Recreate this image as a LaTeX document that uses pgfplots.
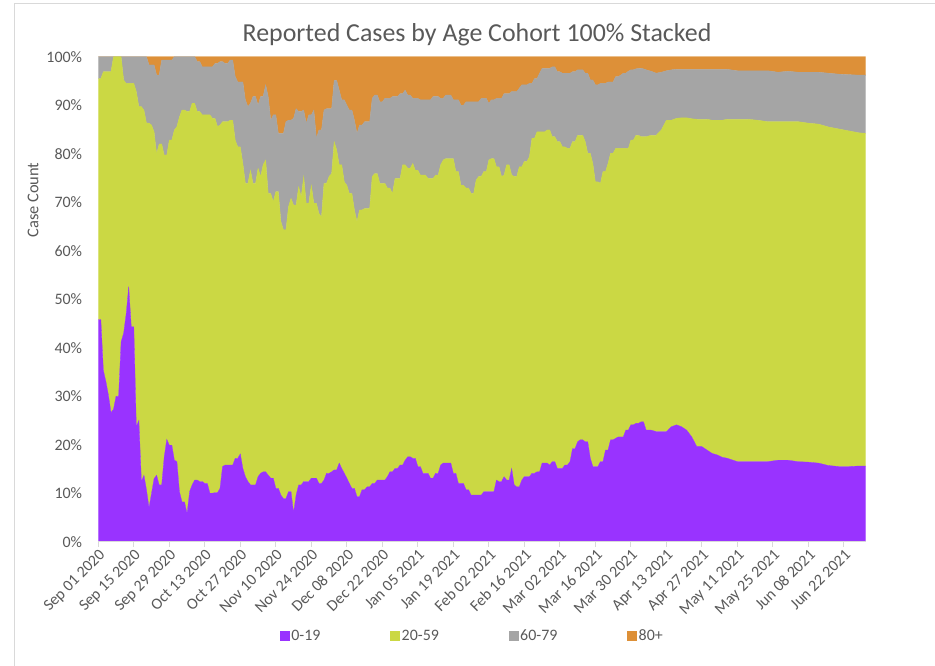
\documentclass[border=0pt]{standalone}
\usepackage{fontspec}
\setmainfont{Carlito}
\usepackage{pgfplots}
\usepackage{pgfplotstable}
\pgfplotsset{compat=1.18}
\definecolor{ageA}{HTML}{9933FF}
\definecolor{ageB}{HTML}{CBD844}
\definecolor{ageC}{HTML}{A5A5A5}
\definecolor{ageD}{HTML}{DD9038}
\definecolor{txtgray}{HTML}{595959}
\definecolor{linegray}{HTML}{D9D9D9}

% cumulative tops (%): p = 0-19, g = up to 20-59, s = up to 60-79; 80+ fills to 100
\pgfplotstableread{
day p g s
0 45.8 95.5 100
1 45.8 95.5 100
2 35.3 96.9 100
3 33 96.9 100
4 30.2 96.9 100
5 26.6 96.9 100
6 27.3 100 100
7 30 100 100
8 29.9 100 100
9 41.2 100 100
10 43 95.2 100
11 47 94.5 100
12 52.6 94.5 100
13 44.3 94.5 100
14 44.3 94.5 100
15 23.7 92.8 100
16 25 89.7 100
17 12.4 89.7 100
18 13.7 89 100
19 10.7 86.3 100
20 7 86.3 98.3
21 10 85.9 98.3
22 13 84.5 98.3
23 13.7 80 96.2
24 11.7 82 96.2
25 11.7 82 99.3
26 17.5 79.7 99.3
27 21.1 79.7 99.3
28 19.9 82.8 99.3
29 19.9 82.8 99.3
30 16.8 84.9 100
31 16.5 85.6 100
32 10.3 87.6 100
33 8.2 89 100
34 8.2 89 100
35 5.8 88.7 100
36 10.3 88.7 100
37 11.7 90.4 100
38 12.7 90.4 100
39 12.7 88.7 99
40 12.4 88.7 99
41 12.4 88 97.9
42 12 88 97.9
43 12 88 97.9
44 10 88 97.9
45 10 87.3 97.9
46 10.1 87.3 98.6
47 10.1 85.6 98.6
48 11 85.9 99
49 15.5 86.6 99
50 15.8 86.6 98.6
51 15.8 86.6 98.6
52 15.8 86.9 99.3
53 15.8 86.9 99.3
54 17.2 82.8 95.9
55 17.2 81.4 94.8
56 18.1 81.4 94.8
57 15.1 78 94.8
58 13.4 73.9 91.1
59 12.4 73.9 89.7
60 11.7 76.6 90.4
61 11.7 73.9 91.8
62 11.7 73.9 91.8
63 13.4 77 90
64 14.1 75.3 91.8
65 14.4 77.7 91.8
66 14.4 78.7 94.2
67 13.7 71.8 91.8
68 13.1 71.8 86.9
69 13.1 70.1 88
70 11 72.2 88
71 11 72.2 84.2
72 9.6 66 84.2
73 8.9 64.3 84.2
74 8.9 64.3 86.6
75 10.3 69.1 86.9
76 10.3 70.8 86.9
77 6 69.4 87.3
78 9.6 69.4 89.3
79 11.7 73.2 88.7
80 11.7 71.1 88.7
81 12.4 75.3 89
82 12.4 69.8 86.3
83 12.4 69.8 88
84 13.1 73.5 88
85 13.1 69.8 89
86 13.1 69.8 83.2
87 12 67.7 84.9
88 12 67 84.9
89 12.7 73.9 89
90 14.1 73.9 89.3
91 14.1 75.3 89.3
92 14.4 75.9 89.3
93 14.8 82.5 95.1
94 14.8 80.8 95.1
95 16.2 77.7 93.1
96 15.1 77.7 91.1
97 14.1 74.2 91.1
98 13.1 73.5 90
99 12 71.8 89
100 11 71.8 89
101 11 68.4 86.9
102 9.3 66 84.2
103 9.3 68.4 85.9
104 10.7 68.4 85.9
105 10.7 68.7 86.6
106 11.3 68.7 86.6
107 11.3 68.7 86.6
108 12 75.3 91.4
109 12 75.9 92.1
110 12.7 75.9 92.1
111 12.7 73.9 90.7
112 12.7 73.9 90.7
113 12.7 73.9 91.4
114 13.4 72.9 91.4
115 14.4 72.9 91.4
116 14.4 71.8 91.8
117 15.1 74.9 91.8
118 15.1 74.9 91.8
119 15.8 74.9 92.4
120 15.8 77.7 92.4
121 16.8 77.7 93.1
122 17.5 77 92.1
123 17.5 77 92.1
124 17.2 78 91.4
125 17.2 76.6 91.4
126 15.5 76.6 91.4
127 15.5 75.6 91.1
128 14.1 75.6 91.1
129 14.1 75.6 91.1
130 14.1 74.9 91.1
131 13.1 74.9 91.1
132 13.1 74.9 91.8
133 14.1 75.6 91.8
134 14.1 75.6 91.8
135 15.8 77.7 91.4
136 16.2 78.7 91.4
137 16.2 79 92.1
138 16.2 79 92.1
139 16.2 79 92.1
140 14.1 79 91.1
141 14.1 76.3 91.1
142 12 76.3 91.1
143 12 73.5 90
144 12 73.5 90
145 10.7 72.9 90.7
146 10.7 72.9 90.7
147 9.6 71.8 90.7
148 9.6 71.8 90.7
149 9.6 74.6 90.7
150 9.6 75.3 90.7
151 9.6 75.3 91.4
152 10.3 76.3 91.4
153 10.3 76.3 91.4
154 10.3 78.7 90.4
155 10.3 79 91.1
156 10.3 79 91.1
157 12.7 77.3 91.4
158 12.4 77.3 91.4
159 12.4 75.3 91.4
160 13.4 75.6 92.4
161 12.7 77.7 92.4
162 12.7 77.7 92.4
163 15.1 75.6 92.8
164 11.7 75.3 92.8
165 11.3 75.3 92.8
166 11.3 77.3 93.5
167 12.7 77.3 94.2
168 13.4 78.4 94.2
169 13.4 78.4 94.2
170 13.4 79.4 94.5
171 14.1 83.2 94.5
172 14.1 83.2 95.5
173 14.4 84.5 95.5
174 14.4 84.5 96.6
175 16.2 84.5 97.6
176 16.2 84.5 97.6
177 16.2 84.9 97.6
178 15.8 84.9 97.6
179 16.5 83.5 97.9
180 16.5 83.5 97.9
181 15.1 82.5 96.9
182 15.1 82.5 96.9
183 15.1 81.4 96.6
184 15.8 81.4 96.6
185 15.8 81.1 96.6
186 16.5 81.1 96.6
187 19.2 82.5 96.9
188 19.2 82.5 96.9
189 20.6 83.8 97.3
190 21 83.8 97.3
191 21 83.8 97.3
192 20.6 82.5 96.6
193 20.6 80.1 96.6
194 17.2 80.1 95.2
195 15.5 78 95.2
196 15.5 74.2 94.2
197 15.5 74.2 94.2
198 16.5 73.9 94.5
199 16.5 76.3 94.5
200 18.9 76.3 94.5
201 18.9 78 94.8
202 21 80.1 94.8
203 21 80.1 94.8
204 21.3 81.1 95.9
205 21.6 81.1 95.9
206 21.6 81.1 96.2
207 21.6 81.1 96.6
208 23 81.1 96.6
209 23 81.1 97
210 24.1 82.8 97.3
211 24.1 82.8 97.3
212 24.4 83.8 97.5
213 24.4 83.8 97.6
214 24.7 83.5 97.6
215 24.7 83.5 97.5
216 23 83.5 97.3
218 23 83.8 97
220 22.7 83.8 96.6
222 22.7 84.9 96.8
224 22.7 86.9 97.1
226 23.7 86.9 97.3
228 24.1 87.3 97.4
230 23.7 87.4 97.4
232 23 87.4 97.4
234 21.6 87.2 97.4
236 19.6 87.1 97.4
238 19.6 87.1 97.4
240 18.9 87.1 97.4
242 18.2 86.9 97.4
244 17.9 86.9 97.4
246 17.4 86.9 97.4
248 17.2 87.1 97.4
252 16.5 87.1 97.1
256 16.5 87.1 97.1
260 16.5 86.9 97.1
264 16.5 86.6 97.1
268 16.8 86.6 96.8
272 16.8 86.6 97
276 16.5 86.6 96.8
280 16.4 86.3 96.8
284 16.2 86.1 96.8
288 15.7 85.5 96.6
292 15.5 85.1 96.4
296 15.5 84.7 96.3
300 15.6 84.3 96.2
302.6 15.6 84.2 96.2
}\cohorts

\begin{document}
\begin{tikzpicture}[x=1bp,y=1bp]
\useasboundingbox (0,0) rectangle (935,666);
\draw[linegray, line width=1bp] (14,0) -- (14,662) -- (935,662);
\node[font=\fontsize{26}{30}\selectfont, text=txtgray] at (477,631)
  {Reported Cases by Age Cohort 100\% Stacked};
\node[rotate=90, font=\fontsize{16.5}{19}\selectfont, text=txtgray] at (33,466) {Case Count};
\begin{axis}[
  at={(98.3bp,124.3bp)}, anchor=south west,
  width=767.4bp, height=485bp, scale only axis,
  xmin=0, xmax=302.6, ymin=0, ymax=100,
  stack plots=y, area style,
  axis x line*=bottom, axis y line*=left,
  y axis line style={draw=none},
  x axis line style={draw=linegray, line width=1.3bp, -},
  tick align=outside, major tick length=5bp,
  xtick style={draw=linegray, line width=1bp},
  ytick style={draw=none},
  ytick={0,10,...,100},
  yticklabels={0\%,10\%,20\%,30\%,40\%,50\%,60\%,70\%,80\%,90\%,100\%},
  xtick={0,14,...,294},
  xticklabels={Sep 01 2020,Sep 15 2020,Sep 29 2020,Oct 13 2020,Oct 27 2020,
    Nov 10 2020,Nov 24 2020,Dec 08 2020,Dec 22 2020,Jan 05 2021,Jan 19 2021,
    Feb 02 2021,Feb 16 2021,Mar 02 2021,Mar 16 2021,Mar 30 2021,Apr 13 2021,
    Apr 27 2021,May 11 2021,May 25 2021,Jun 08 2021,Jun 22 2021},
  tick label style={font=\fontsize{16}{19}\selectfont, text=txtgray},
  x tick label style={rotate=45, anchor=north east, inner sep=1bp},
  y tick label style={inner sep=0pt, xshift=-11bp},
  legend columns=4,
  legend style={at={(0.4875,-0.1944)}, anchor=center, draw=none, fill=none,
    font=\fontsize{16}{19}\selectfont, text=txtgray,
    nodes={inner sep=2bp},
    /tikz/every even column/.append style={column sep=68bp}},
  legend image code/.code={\draw[#1] (0bp,-4.5bp) rectangle (9bp,4.5bp);},
]
\addplot[fill=ageA, draw=ageA, line width=0.3bp] table[x=day, y=p] {\cohorts} \closedcycle;
\addplot[fill=ageB, draw=ageB, line width=0.3bp] table[x=day, y expr=\thisrow{g}-\thisrow{p}] {\cohorts} \closedcycle;
\addplot[fill=ageC, draw=ageC, line width=0.3bp] table[x=day, y expr=\thisrow{s}-\thisrow{g}] {\cohorts} \closedcycle;
\addplot[fill=ageD, draw=ageD, line width=0.3bp] table[x=day, y expr=100-\thisrow{s}] {\cohorts} \closedcycle;
\legend{0-19,20-59,60-79,80+}
\end{axis}
\end{tikzpicture}
\end{document}
